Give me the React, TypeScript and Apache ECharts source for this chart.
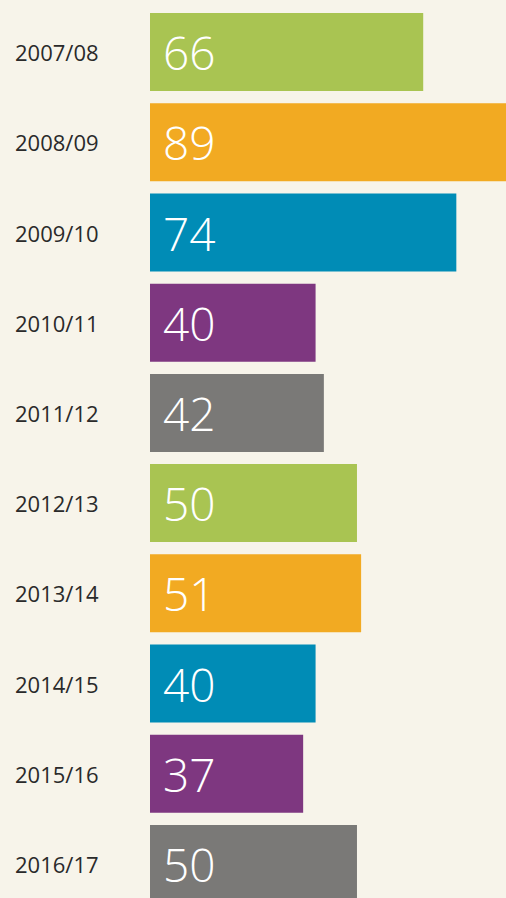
import React, { useEffect, useRef } from "react";
import * as echarts from "echarts";

const categories = ["2007/08", "2008/09", "2009/10", "2010/11", "2011/12", "2012/13", "2013/14", "2014/15", "2015/16", "2016/17"];
const values = [66, 89, 74, 40, 42, 50, 51, 40, 37, 50];
const palette = ["#a9c452", "#f2aa22", "#008cb6", "#7e3780", "#7a7977"];

export default function App() {
  const ref = useRef<HTMLDivElement>(null);
  useEffect(() => {
    document.body.style.margin = "0";
    const chart = echarts.init(ref.current!, null, { renderer: "svg" });
    chart.setOption({
      animation: false,
      backgroundColor: "#f7f4ea",
      grid: { left: 150, right: 0, top: 7, height: 902 },
      xAxis: {
        type: "value",
        min: 0,
        max: 86,
        show: false,
      },
      yAxis: {
        type: "category",
        data: categories,
        inverse: true,
        axisLine: { show: false },
        axisTick: { show: false },
        splitLine: { show: false },
        axisLabel: {
          align: "left",
          margin: 135,
          color: "#2a2a2a",
          fontSize: 22,
          fontFamily: "Open Sans",
        },
      },
      series: [
        {
          type: "bar",
          barWidth: 78,
          clip: true,
          data: values.map((v, i) => ({
            value: v,
            itemStyle: { color: palette[i % palette.length] },
          })),
          label: {
            show: true,
            position: "insideLeft",
            distance: 13,
            color: "#ffffff",
            fontSize: 46,
            fontWeight: 300,
            fontFamily: "Open Sans",
          },
        },
      ],
    });
    return () => chart.dispose();
  }, []);
  return <div ref={ref} style={{ position: "fixed", left: 0, top: 0, width: 506, height: 910 }} />;
}
